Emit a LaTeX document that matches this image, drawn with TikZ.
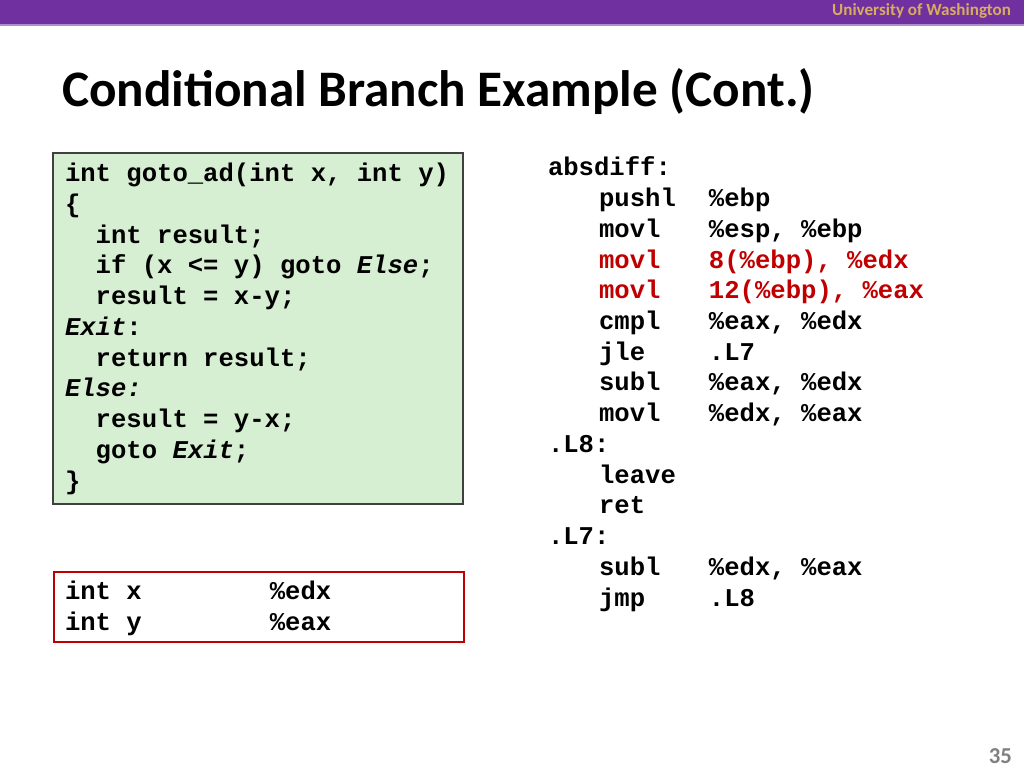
\documentclass[tikz,border=0pt]{standalone}
\usepackage{xcolor}
\usepackage{tikz}
\usetikzlibrary{positioning}
\usepackage{fontspec}
\setmainfont{Carlito}
\setmonofont{Liberation Mono}

\definecolor{uwpurple}{RGB}{112,48,160}
\definecolor{uwgold}{RGB}{216,172,96}
\definecolor{codegreen}{RGB}{214,238,209}
\definecolor{boxgray}{RGB}{64,64,64}
\definecolor{hired}{RGB}{192,0,0}
\definecolor{numgray}{RGB}{128,128,128}

\newcommand{\asmop}[2]{\hspace*{35.9pt}\makebox[77.3pt][l]{#1}#2}

\begin{document}
\begin{tikzpicture}[x=0.703125pt, y=-0.703125pt,
    every node/.style={inner sep=0pt, outer sep=0pt},
    codetext/.style={anchor=base west, align=left, font=\fontsize{18}{21.6}\selectfont\ttfamily\bfseries}]
        \useasboundingbox (0,0) rectangle (1024,768);
        \fill[white] (0,0) rectangle (1024,768);

        % header
        \fill[uwpurple] (0,0) rectangle (1024,24);
        \fill[uwpurple!55] (0,24) rectangle (1024,26);
        \node[anchor=base east, text=uwgold, font=\fontsize{12}{14}\selectfont\bfseries] (Uni) at (1011,16) {University of Washington};
        \node[anchor=base west, font=\fontsize{36}{43}\selectfont\bfseries] (Title) at (62,107) {Conditional Branch Example (Cont.)};

        % C code (base anchor = last line)
        \draw[boxgray, line width=1pt, fill=codegreen] (53,153) rectangle (463,504);
        \node[codetext] (Code) at (65,489) {int goto\_ad(int x, int y)\\
            \{\\
            \hspace*{21.6pt}int result;\\
            \hspace*{21.6pt}if (x <= y) goto \textit{Else};\\
            \hspace*{21.6pt}result = x-y;\\
            \textit{Exit}:\\
            \hspace*{21.6pt}return result;\\
            \textit{Else:}\\
            \hspace*{21.6pt}result = y-x;\\
            \hspace*{21.6pt}goto \textit{Exit};\\
            \}};

        % registers
        \draw[hired, line width=2pt] (54,572) rectangle (464,642);
        \node[codetext] (Regs) at (65,630) {\makebox[144pt][l]{int x}\%edx\\
            \makebox[144pt][l]{int y}\%eax};

        % assembly
        \node[codetext] (Asm) at (548,606) {absdiff:\\
            \asmop{pushl}{\%ebp}\\
            \asmop{movl}{\%esp, \%ebp}\\
            \textcolor{hired}{\asmop{movl}{8(\%ebp), \%edx}}\\
            \textcolor{hired}{\asmop{movl}{12(\%ebp), \%eax}}\\
            \asmop{cmpl}{\%eax, \%edx}\\
            \asmop{jle}{.L7}\\
            \asmop{subl}{\%eax, \%edx}\\
            \asmop{movl}{\%edx, \%eax}\\
            .L8:\\
            \asmop{leave}{}\\
            \asmop{ret}{}\\
            .L7:\\
            \asmop{subl}{\%edx, \%eax}\\
            \asmop{jmp}{.L8}};

        \node[anchor=base east, text=numgray, font=\fontsize{16}{19}\selectfont\bfseries] (Num) at (1012,763) {35};
    \end{tikzpicture}
\end{document}
